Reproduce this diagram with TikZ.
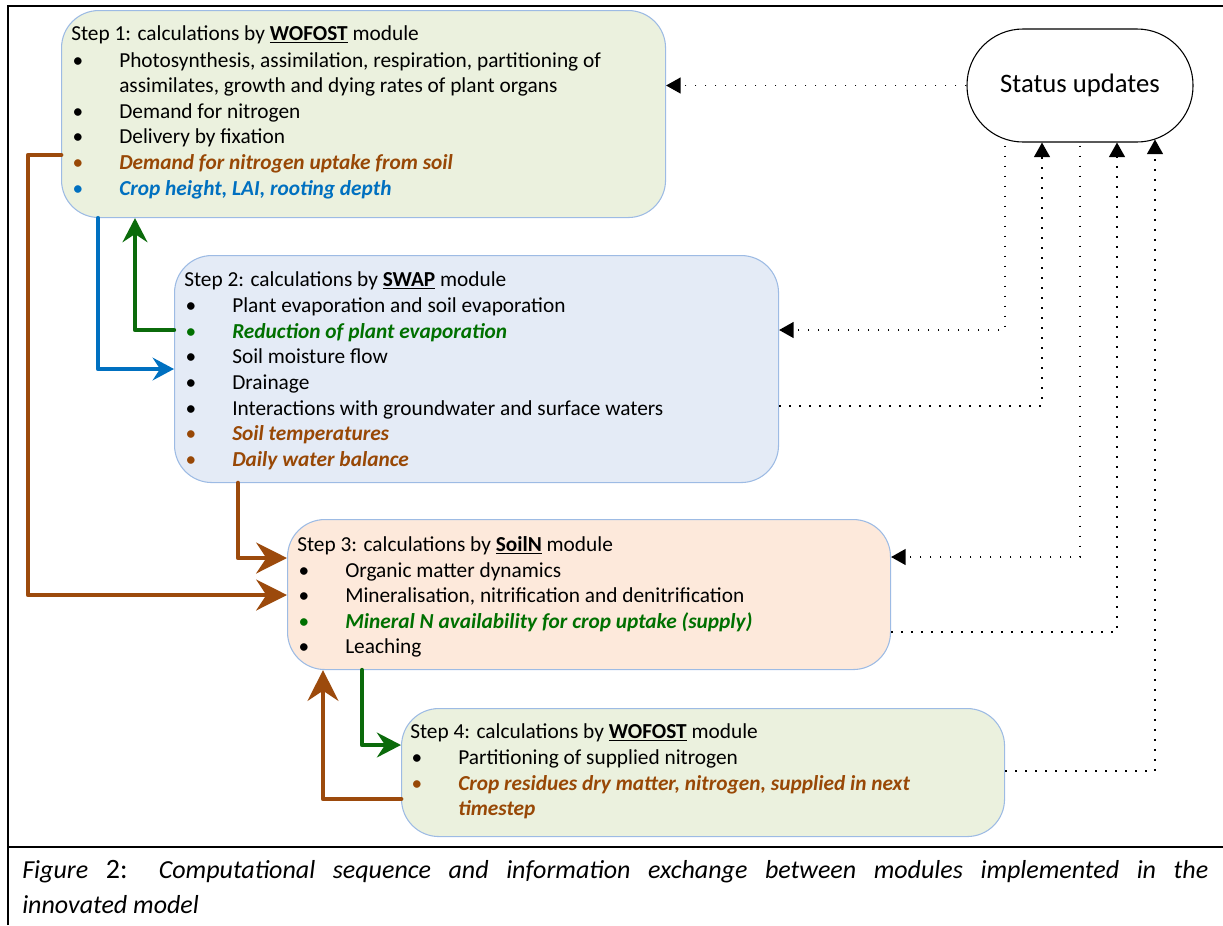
\documentclass[tikz,border=0pt]{standalone}
\usepackage{fontspec}
\setmainfont{Carlito}
\usetikzlibrary{arrows.meta,calc}
\definecolor{gfill}{HTML}{EBF1DE}
\definecolor{bfill}{HTML}{E4EBF6}
\definecolor{ofill}{HTML}{FDE9DB}
\definecolor{bord}{HTML}{9DBBE4}
\definecolor{brn}{HTML}{984806}
\definecolor{grn}{HTML}{007000}
\definecolor{blu}{HTML}{0070C0}
\definecolor{abrn}{HTML}{9C4A0C}
\definecolor{agrn}{HTML}{0B6B0B}
\newcommand{\bodyfont}{\fontsize{16pt}{19.15pt}\selectfont}
\newcommand{\bitem}[1]{\makebox[36pt][l]{\hspace{1pt}\textbullet}#1\par}
\newcommand{\citem}[2]{{\color{#1}\makebox[36pt][l]{\hspace{1pt}\textbullet}\bfseries\itshape #2\par}}
\newcommand{\modname}[1]{\underline{\textbf{#1}}}
\tikzset{
  stepbox/.style={draw=bord, line width=0.8pt, rounded corners=28pt, anchor=north west, inner sep=0pt},
  boxtext/.style={anchor=base west, inner sep=0pt, align=left},
  bluearr/.style={draw=blu, line width=3.2pt, line join=round, line cap=round, -{Stealth[length=16pt,width=17pt,inset=5.5pt]}},
  grnarr/.style={draw=agrn, line width=3.3pt, line join=round, line cap=round, -{Stealth[length=18pt,width=18.5pt,inset=6pt]}},
  brnarr/.style={draw=abrn, line width=3.6pt, line join=round, line cap=round, -{Stealth[length=23pt,width=23pt,inset=7.5pt]}},
  dotarr/.style={line width=1.2pt, dash pattern=on 1.2pt off 6.3pt, -{Triangle[length=11pt,width=12pt]}},
  frameline/.style={line width=2.2pt}
}
\begin{document}
\begin{tikzpicture}[x=0.75pt,y=-0.75pt]
\useasboundingbox (0,0) rectangle (1223,925);
% frame
\draw[line width=1.6pt] (8,925) -- (8,5);
\draw[frameline] (7.4,6) -- (1223,6);
\draw[frameline] (8,847) -- (1223,847);
% boxes
\node[stepbox, fill=gfill, minimum width=453pt, minimum height=155.25pt] (s1) at (61,10) {};
\node[stepbox, fill=bfill, minimum width=453pt, minimum height=170.25pt] (s2) at (174,255) {};
\node[stepbox, fill=ofill, minimum width=452.25pt, minimum height=112.5pt] (s3) at (287,519) {};
\node[stepbox, fill=gfill, minimum width=452.25pt, minimum height=96pt] (s4) at (401,708) {};
\node[draw, line width=0.8pt, rounded corners=42pt, minimum width=169.5pt, minimum height=84.75pt, inner sep=0pt, fill=white, font=\fontsize{20pt}{24pt}\selectfont] (st) at (1080,85.5) {Status updates};
% texts
\node[boxtext] (t1) at ($(s1.north west)+(10,30.5)$) {\parbox[t]{460pt}{\bodyfont
Step 1: calculations by \modname{WOFOST} module\par\vspace{1pt}
\bitem{Photosynthesis, assimilation, respiration, partitioning of}
\hspace*{36pt}assimilates, growth and dying rates of plant organs\par
\bitem{Demand for nitrogen}
\bitem{Delivery by fixation}
\citem{brn}{Demand for nitrogen uptake from soil}
\citem{blu}{Crop height, LAI, rooting depth}}};
\node[boxtext] (t2) at ($(s2.north west)+(10,31)$) {\parbox[t]{460pt}{\bodyfont
Step 2: calculations by \modname{SWAP} module\par\vspace{1pt}
\bitem{Plant evaporation and soil evaporation}
\citem{grn}{Reduction of plant evaporation}
\bitem{Soil moisture flow}
\bitem{Drainage}
\bitem{Interactions with groundwater and surface waters}
\citem{brn}{Soil temperatures}
\citem{brn}{Daily water balance}}};
\node[boxtext] (t3) at ($(s3.north west)+(10,32)$) {\parbox[t]{460pt}{\bodyfont
Step 3: calculations by \modname{SoilN} module\par\vspace{0.5pt}
\bitem{Organic matter dynamics}
\bitem{Mineralisation, nitrification and denitrification}
\citem{grn}{Mineral N availability for crop uptake (supply)}
\bitem{Leaching}}};
\node[boxtext] (t4) at ($(s4.north west)+(9,30.5)$) {\parbox[t]{460pt}{\bodyfont
Step 4: calculations by \modname{WOFOST} module\par\vspace{0.5pt}
\bitem{Partitioning of supplied nitrogen}
\citem{brn}{Crop residues dry matter, nitrogen, supplied in next}
{\color{brn}\bfseries\itshape\hspace*{36pt}timestep\par}}};
% caption
\node[anchor=base west, inner sep=0pt] (cap) at (22,878.5) {\parbox[t]{889.5pt}{\fontsize{19.5pt}{26.25pt}\selectfont\itshape
Figure {\upshape\fontsize{21pt}{26.25pt}\selectfont 2:} Computational sequence and information exchange between modules implemented in the\linebreak innovated model}};
% coloured connectors
\draw[bluearr] ($(s1.south west)+(37,0)$) |- ($(s2.north west)+(0,114)$);
\draw[grnarr] ($(s2.north west)+(0,75)$) -| ($(s1.south west)+(74,0)$);
\draw[brnarr] ($(s1.north west)+(0,145)$) -- ++(-33,0) |- ($(s3.north west)+(0,76)$);
\draw[brnarr] ($(s2.south west)+(64,0)$) |- ($(s3.north west)+(0,39)$);
\draw[grnarr] ($(s3.south west)+(75,0)$) |- ($(s4.north west)+(0,37)$);
\draw[brnarr] ($(s4.north west)+(0,91)$) -| ($(s3.south west)+(36,0)$);
% dotted connectors
\draw[dotarr] (st.west) -- (st.west -| s1.east);
\draw[dotarr] ($(st.south)+(-75,3)$) |- ($(s2.north east)+(0,75)$);
\draw[dotarr] ($(s2.north east)+(0,151)$) -| ($(st.south)+(-38,0)$);
\draw[dotarr] ($(st.south)+(0,3)$) |- ($(s3.north east)+(0,38)$);
\draw[dotarr] ($(s3.north east)+(0,113)$) -| ($(st.south)+(37,0)$);
\draw[dotarr] ($(s4.north east)+(0,63)$) -| ($(st.south)+(75,-3)$);
\end{tikzpicture}
\end{document}
